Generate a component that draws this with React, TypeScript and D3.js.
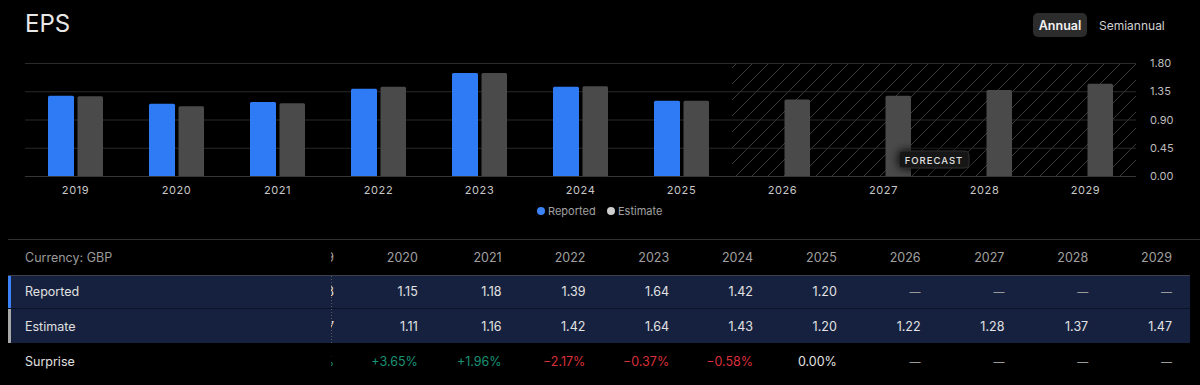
import { useEffect, useRef } from 'react';
import * as d3 from 'd3';

const years = ['2019', '2020', '2021', '2022', '2023', '2024', '2025', '2026', '2027', '2028', '2029'];
const reported: (number | null)[] = [1.28, 1.15, 1.18, 1.39, 1.64, 1.42, 1.2, null, null, null, null];
const estimate: number[] = [1.27, 1.11, 1.16, 1.42, 1.64, 1.43, 1.2, 1.22, 1.28, 1.37, 1.47];
const surprise: string[] = ['+0.79%', '+3.65%', '+1.96%', '−2.17%', '−0.37%', '−0.58%', '0.00%', '—', '—', '—', '—'];
const yTicks = [0, 0.45, 0.9, 1.35, 1.8];
const forecastFrom = '2026';

const W = 1200;
const H = 385;
const FONT = 'Inter, "Noto Sans", sans-serif';

export default function App() {
  const svgRef = useRef<SVGSVGElement>(null);

  useEffect(() => {
    if (!svgRef.current) return;
    const svg = d3.select(svgRef.current);
    svg.selectAll('*').remove();

    svg.append('rect').attr('width', W).attr('height', H).attr('fill', '#000');

    // Title + toggle
    svg.append('text').attr('x', 25).attr('y', 32).attr('fill', '#e8e8e8')
      .attr('font-size', 24).attr('font-family', FONT).text('EPS');
    svg.append('rect').attr('x', 1033).attr('y', 13).attr('width', 54).attr('height', 24)
      .attr('rx', 5).attr('fill', '#2c2c2c');
    svg.append('text').attr('x', 1060).attr('y', 29.5).attr('text-anchor', 'middle')
      .attr('fill', '#f2f2f2').attr('font-size', 12.5).attr('font-weight', 600)
      .attr('font-family', FONT).text('Annual');
    svg.append('text').attr('x', 1099).attr('y', 29.5)
      .attr('fill', '#d0d0d0').attr('font-size', 12).attr('font-family', FONT).text('Semiannual');

    // Scales
    const x = d3.scaleBand<string>().domain(years).range([25, 1136]);
    const y = d3.scaleLinear().domain([0, 1.8]).range([176, 63]);
    const bw = x.bandwidth();

    // Hatch pattern
    const defs = svg.append('defs');
    const pat = defs.append('pattern').attr('id', 'hatch').attr('patternUnits', 'userSpaceOnUse')
      .attr('width', 16).attr('height', 16);
    pat.append('path').attr('d', 'M0,16 L16,0 M-4,4 L4,-4 M12,20 L20,12')
      .attr('stroke', '#3a3a3a').attr('stroke-width', 1);
    const glow = defs.append('filter').attr('id', 'glow').attr('x', '-50%').attr('y', '-80%')
      .attr('width', '200%').attr('height', '260%');
    glow.append('feDropShadow').attr('dx', 0).attr('dy', 0).attr('stdDeviation', 5)
      .attr('flood-color', '#000').attr('flood-opacity', 1);

    const fx = x(forecastFrom)!;
    svg.append('rect').attr('x', fx).attr('y', y(1.8)).attr('width', 1136 - fx)
      .attr('height', y(0) - y(1.8)).attr('fill', 'url(#hatch)');

    // Grid
    yTicks.forEach((t) => {
      svg.append('line').attr('x1', 25).attr('x2', 1136).attr('y1', y(t) + 0.5).attr('y2', y(t) + 0.5)
        .attr('stroke', t === 0 ? '#363636' : '#2a2a2a');
      svg.append('text').attr('x', 1150).attr('y', y(t) + 4).attr('fill', '#bdbdbd')
        .attr('font-size', 11).attr('font-family', FONT).text(t.toFixed(2));
    });

    // Bars
    const barPath = (x0: number, w: number, v: number) => {
      const top = y(v);
      const r = 1.5;
      return `M${x0},${y(0)} V${top + r} Q${x0},${top} ${x0 + r},${top} H${x0 + w - r} Q${x0 + w},${top} ${x0 + w},${top + r} V${y(0)} Z`;
    };
    years.forEach((yr, i) => {
      const c = x(yr)! + bw / 2;
      const rv = reported[i];
      if (rv != null) {
        svg.append('path').attr('d', barPath(c - 27.5, 26, rv)).attr('fill', '#2f7af5');
      }
      svg.append('path').attr('d', barPath(c + 2, 25.5, estimate[i])).attr('fill', '#4a4a4a');
      svg.append('text').attr('x', c).attr('y', 194).attr('text-anchor', 'middle')
        .attr('fill', '#c8c8c8').attr('font-size', 11).attr('letter-spacing', 0.6)
        .attr('font-family', FONT).text(yr);
    });

    // Forecast badge
    const bx = (fx + 1136) / 2;
    const badge = svg.append('g').attr('filter', 'url(#glow)');
    badge.append('rect').attr('x', bx - 35).attr('y', 151).attr('width', 70).attr('height', 17)
      .attr('rx', 4).attr('fill', '#121212').attr('stroke', '#2e2e2e');
    svg.append('text').attr('x', bx).attr('y', 163.5).attr('text-anchor', 'middle')
      .attr('fill', '#e0e0e0').attr('font-size', 9.5).attr('font-weight', 500)
      .attr('letter-spacing', 1).attr('font-family', FONT).text('FORECAST');

    // Legend
    const legend = [
      { label: 'Reported', color: '#3b82f6', x: 541 },
      { label: 'Estimate', color: '#cfcfcf', x: 611 },
    ];
    legend.forEach((l) => {
      svg.append('circle').attr('cx', l.x).attr('cy', 211).attr('r', 4).attr('fill', l.color);
      svg.append('text').attr('x', l.x + 7).attr('y', 215).attr('fill', '#a0a0a0')
        .attr('font-size', 11).attr('font-family', FONT).text(l.label);
    });

    // Divider
    svg.append('line').attr('x1', 8).attr('x2', W).attr('y1', 239.5).attr('y2', 239.5).attr('stroke', '#303030');

    // Table
    const colRight = d3.scaleLinear().domain([0, years.length - 1]).range([334, 1172]);
    const rows = [
      { key: 'Reported', y0: 275, y1: 308, strip: '#3b82f6', vals: reported.map((v) => (v == null ? '—' : v.toFixed(2))) },
      { key: 'Estimate', y0: 308, y1: 343, strip: '#a8a8a8', vals: estimate.map((v) => v.toFixed(2)) },
    ];

    rows.forEach((r) => {
      svg.append('rect').attr('x', 8).attr('y', r.y0).attr('width', 1182).attr('height', r.y1 - r.y0).attr('fill', '#16213f');
    });
    svg.append('line').attr('x1', 8).attr('x2', 1190).attr('y1', 275.5).attr('y2', 275.5).attr('stroke', '#3a3f4a');
    svg.append('line').attr('x1', 8).attr('x2', 1190).attr('y1', 308.5).attr('y2', 308.5).attr('stroke', '#0c1428');

    const valText = (xr: number, yy: number, txt: string, fill: string) =>
      svg.append('text').attr('x', xr).attr('y', yy).attr('text-anchor', 'end').attr('fill', fill)
        .attr('font-size', txt === '—' ? 11 : 12.5).attr('font-family', FONT).text(txt);

    years.forEach((yr, i) => {
      const xr = colRight(i);
      valText(xr, 262, yr, '#a0a0a0');
      valText(xr, 296, rows[0].vals[i], rows[0].vals[i] === '—' ? '#9a9a9a' : '#e2e2e2');
      valText(xr, 331, rows[1].vals[i], '#e2e2e2');
      const s = surprise[i];
      const col = s.startsWith('+') ? '#1b9274' : s.startsWith('−') ? '#db2f3a' : s === '—' ? '#9a9a9a' : '#e2e2e2';
      valText(xr, 366, s, col);
    });

    // Sticky first column covering the scrolled 2019 column
    svg.append('rect').attr('x', 0).attr('y', 241).attr('width', 331).attr('height', 34).attr('fill', '#000');
    svg.append('rect').attr('x', 8).attr('y', 276).attr('width', 323).attr('height', 32).attr('fill', '#16213f');
    svg.append('rect').attr('x', 8).attr('y', 309).attr('width', 323).attr('height', 34).attr('fill', '#16213f');
    svg.append('rect').attr('x', 0).attr('y', 343).attr('width', 331).attr('height', 42).attr('fill', '#000');
    svg.append('line').attr('x1', 8).attr('x2', 331).attr('y1', 308.5).attr('y2', 308.5).attr('stroke', '#0c1428');
    svg.append('line').attr('x1', 331.5).attr('x2', 331.5).attr('y1', 276).attr('y2', 343)
      .attr('stroke', '#5a5a5a').attr('stroke-dasharray', '1,2');

    svg.append('rect').attr('x', 8).attr('y', 276).attr('width', 3).attr('height', 32).attr('fill', rows[0].strip);
    svg.append('rect').attr('x', 8).attr('y', 309).attr('width', 3).attr('height', 34).attr('fill', rows[1].strip);

    const label = (yy: number, txt: string, fill: string) =>
      svg.append('text').attr('x', 25).attr('y', yy).attr('fill', fill)
        .attr('font-size', 12.5).attr('font-family', FONT).text(txt);
    label(262, 'Currency: GBP', '#9a9a9a');
    label(296, 'Reported', '#e0e0e0');
    label(331, 'Estimate', '#e0e0e0');
    label(366, 'Surprise', '#e0e0e0');
  }, []);

  return (
    <svg ref={svgRef} width={W} height={H}
      style={{ position: 'absolute', left: 0, top: 0, display: 'block' }} />
  );
}
